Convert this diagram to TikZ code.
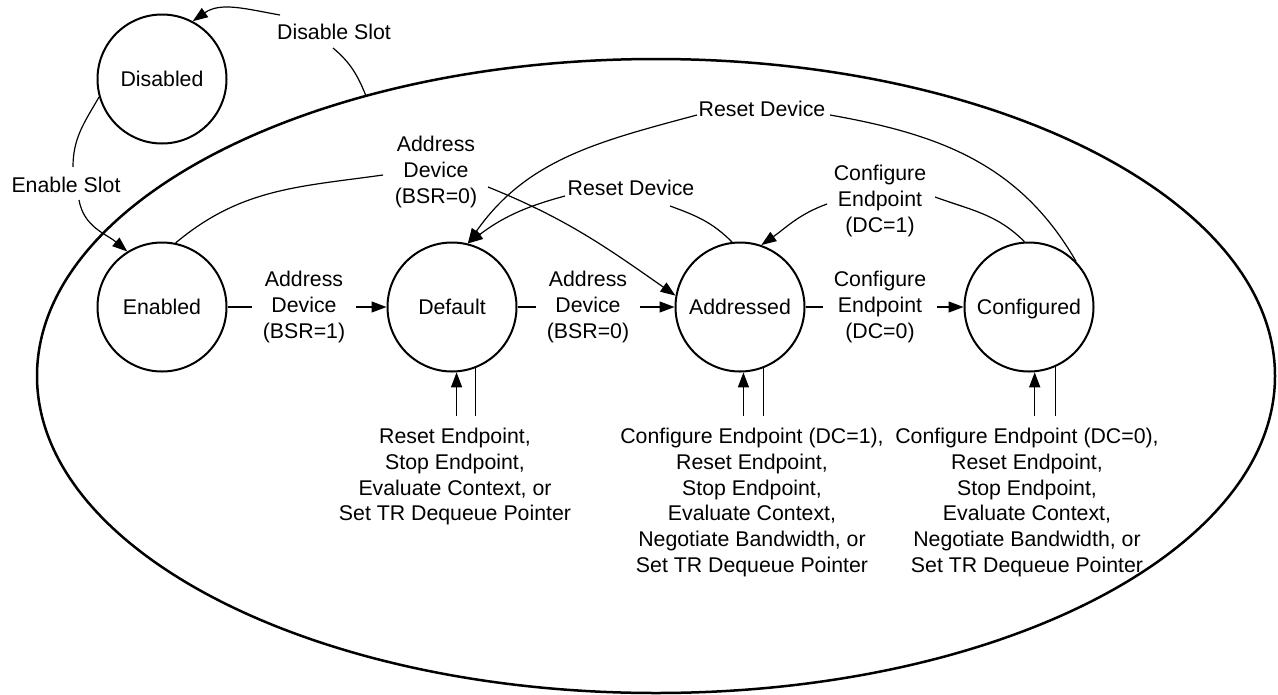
\documentclass[tikz,border=0pt]{standalone}
\usepackage{fontspec}
\setmainfont{Liberation Sans}
\usetikzlibrary{arrows.meta,shapes.geometric,calc}
\newcommand{\labfont}{\fontsize{21.3}{25.7}\selectfont}
\begin{document}
\begin{tikzpicture}[x=1pt,y=-1pt,
  state/.style={circle,draw,line width=2pt,minimum size=129pt,inner sep=0pt,font=\labfont,text height=15.3pt,text depth=0pt},
  conn/.style={line width=1.2pt},
  arr/.style={conn,-{Triangle[length=15pt,width=11pt]}},
  lbl/.style={align=center,inner sep=0pt,font=\labfont},
  mlbl/.style={align=center,inner xsep=11pt,inner ysep=0pt,font=\labfont},
]
\useasboundingbox (0,0) rectangle (1278,694);
\node[ellipse,draw,line width=2.5pt,minimum width=1238pt,minimum height=634pt,inner sep=0pt,outer sep=0pt] (ell) at (656,376) {};

\node[state] (dis) at (162,79) {Disabled};
\node[state] (en) at (162,307) {Enabled};
\node[state] (def) at (452,307) {Default};
\node[state] (add) at (740,307) {Addressed};
\node[state] (conf) at (1029,307) {Configured};

% straight transitions
\node[mlbl] (l1) at (304,307) {Address\\Device\\(BSR=1)};
\node[mlbl] (l2) at (588,307) {Address\\Device\\(BSR=0)};
\node[mlbl] (l3) at (880,307) {Configure\\Endpoint\\(DC=0)};
\draw[conn] (en) -- (l1);
\draw[arr] (l1) -- (def);
\draw[conn] (def) -- (l2);
\draw[arr] (l2) -- (add);
\draw[conn] (add) -- (l3);
\draw[arr] (l3) -- (conf);

% Disable Slot
\node[lbl] (dsl) at (334,32) {Disable Slot};
\coordinate (dsA) at (333,48);
\coordinate (dsB) at (280,15);
\draw[conn] (ell.136) to[out=112,in=-40] (dsA);
\draw[arr] (dsB) to[out=170,in=35] (dis.62);

% Enable Slot
\node[lbl] (esl) at (66,185) {Enable Slot};
\coordinate (esA) at (73,167);
\coordinate (esB) at (79,200);
\draw[conn] (dis.196) to[out=240,in=90] (esA);
\draw[arr] (esB) to[out=-80,in=140] (en.122);

% Address Device (BSR=0) from Enabled
\node[lbl] (adl) at (436,172) {Address\\Device\\(BSR=0)};
\coordinate (adA) at (383,175);
\coordinate (adB) at (488,187);
\draw[conn] (en.78) to[out=40,in=188] (adA);
\draw[arr] (adB) to[out=-22,in=145] (add.170);

% Reset Device (inner)
\node[lbl] (rs1) at (631,188) {Reset Device};
\coordinate (r1A) at (670,206);
\coordinate (r1B) at (565,196);
\draw[conn] (add.97) to[out=135,in=-20] (r1A);
\draw[arr] (r1B) to[out=195,in=37] (def.76);

% Reset Device (outer)
\node[lbl] (rs2) at (762,109) {Reset Device};
\coordinate (r2A) at (830,115);
\coordinate (r2B) at (697,115);
\draw[conn] (conf.44) to[out=120,in=-10] (r2A);
\draw[arr] (r2B) to[out=195,in=55] (def.76);

% Configure Endpoint (DC=1)
\node[lbl] (cl) at (880,201) {Configure\\Endpoint\\(DC=1)};
\coordinate (c1A) at (935,197);
\coordinate (c1B) at (827,204);
\draw[conn] (conf.94) to[out=135,in=-20] (c1A);
\draw[arr] (c1B) to[out=200,in=35] (add.71);

% self loops
\coordinate (dA) at (456,416);
\coordinate (aA) at (743,416);
\coordinate (cA) at (1035,416);
\draw[arr] (def.-86 |- dA) -- (def.-86);
\draw[conn] (def.-69) -- (def.-69 |- dA);
\draw[arr] (add.-87 |- aA) -- (add.-87);
\draw[conn] (add.-69) -- (add.-69 |- aA);
\draw[arr] (conf.-85 |- cA) -- (conf.-85);
\draw[conn] (conf.-66) -- (conf.-66 |- cA);

\node[lbl,anchor=north] (bl1) at (455,428) {Reset Endpoint,\\Stop Endpoint,\\Evaluate Context, or\\Set TR Dequeue Pointer};
\node[lbl,anchor=north] (bl2) at (752,428) {Configure Endpoint (DC=1),\\Reset Endpoint,\\Stop Endpoint,\\Evaluate Context,\\Negotiate Bandwidth, or\\Set TR Dequeue Pointer};
\node[lbl,anchor=north] (bl3) at (1027,428) {Configure Endpoint (DC=0),\\Reset Endpoint,\\Stop Endpoint,\\Evaluate Context,\\Negotiate Bandwidth, or\\Set TR Dequeue Pointer};
\end{tikzpicture}
\end{document}
